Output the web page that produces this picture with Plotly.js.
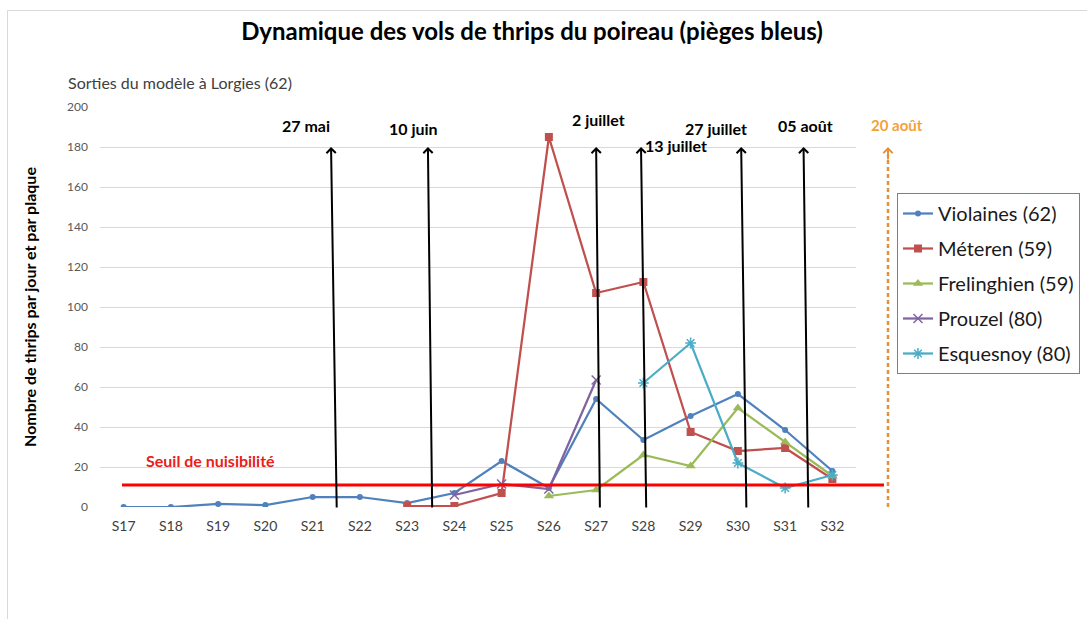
<!DOCTYPE html>
<html>
<head>
<meta charset="utf-8">
<script src="https://cdn.plot.ly/plotly-3.0.1.min.js"></script>
<style>html,body{margin:0;padding:0;background:#fff;}#chart{width:1087px;height:619px;}</style>
</head>
<body>
<div id="chart"></div>
<script>
// ---- data ----
var weeks = ["S17","S18","S19","S20","S21","S22","S23","S24","S25","S26","S27","S28","S29","S30","S31","S32"];
var violaines   = [0, 0, 1.5, 1, 5, 5, 2, 7, 23, 9.5, 54, 33.5, 45.5, 56.5, 38.5, 18];
var meteren     = [null, null, null, null, null, null, 0.5, 0.5, 7, 185, 107, 112.5, 37.5, 28, 29.5, 14];
var frelinghien = [null, null, null, null, null, null, null, null, null, 5.5, 8.5, 26, 20.5, 49.5, 32.5, 15.5];
var prouzel     = [null, null, null, null, null, null, null, 6, 11.5, 9, 63.5, null, null, null, null, null];
var esquesnoy   = [null, null, null, null, null, null, null, null, null, null, null, 62, 82, 22, 9.5, 16];
var seriesNames = ["Violaines (62)", "Méteren (59)", "Frelinghien (59)", "Prouzel (80)", "Esquesnoy (80)"];
var seuil = 11;
var seuilLabel = "Seuil de nuisibilité";
// dated events (arrows), positions in week-index units
var eventLabels = ["27 mai", "10 juin", "2 juillet", "13 juillet", "27 juillet", "05 août"];
var eventHeadX  = [4.39, 6.44, 10.0, 10.95, 13.07, 14.39];
var eventTailX  = [4.51, 6.53, 10.08, 11.06, 13.18, 14.49];
var lastEventLabel = "20 août";

var FONT = "Lato, 'Open Sans', sans-serif";
var colors = ["#4F81BD", "#C0504D", "#9BBB59", "#8064A2", "#4BACC6"];
var symbols = ["circle", "square", "triangle-up", "x-thin-open", "asterisk-open"];
var sizes = [6, 8, 9, 9, 9];
var allSeries = [violaines, meteren, frelinghien, prouzel, esquesnoy];

var traces = allSeries.map(function(vals, i) {
  return {
    type: "scatter", mode: "lines+markers",
    x: weeks, y: vals, name: seriesNames[i],
    legendgroup: "g" + i,
    connectgaps: false,
    line: {color: colors[i], width: 2.25},
    marker: {symbol: symbols[i], size: sizes[i], color: colors[i],
             line: {color: colors[i], width: (i >= 3 ? 1.5 : 0)}}
  };
});

// plot area in pixels: left 100, right 856, top 107, bottom 507
var L = 100, R = 856, T = 107, B = 507, W = 1087, H = 619;
function px2paperX(p) { return (p - L) / (R - L); }
function px2paperY(p) { return (B - p) / (B - T); }

var annotations = [];
var labelPos = [[3.86, 191], [6.14, 189.5], [10.04, 194], [11.69, 181], [12.54, 189.5], [14.43, 191]];
eventLabels.forEach(function(lbl, i) {
  annotations.push({
    xref: "x", yref: "y", x: eventHeadX[i], y: 180,
    axref: "x", ayref: "y", ax: eventTailX[i], ay: -1,
    showarrow: true, arrowhead: 4, arrowsize: 0.9, arrowwidth: 2, arrowcolor: "#000",
    standoff: 0, startstandoff: 0, text: ""
  });
  annotations.push({
    xref: "x", yref: "y", x: labelPos[i][0], y: labelPos[i][1],
    text: "<b>" + lbl + "</b>", showarrow: false,
    font: {family: FONT, size: 16, color: "#000"}, xanchor: "center", yanchor: "middle"
  });
});
// 20 août (outside the plot)
annotations.push({
  xref: "paper", yref: "y", x: px2paperX(888), y: 180,
  ax: 0, ay: 14, showarrow: true, arrowhead: 4, arrowsize: 0.9, arrowwidth: 2,
  arrowcolor: "#E5913B", standoff: 0, text: ""
});
annotations.push({
  xref: "paper", yref: "y", x: px2paperX(897), y: 191,
  text: "<b>" + lastEventLabel + "</b>", showarrow: false,
  font: {family: FONT, size: 15, color: "#F2A23A"}, xanchor: "center", yanchor: "middle"
});
// threshold label
annotations.push({
  xref: "x", yref: "y", x: 0.44, y: 23.5, xanchor: "left", yanchor: "middle",
  text: "<b>" + seuilLabel + "</b>", showarrow: false,
  font: {family: FONT, size: 16, color: "#E8201A"}
});
// subtitle
annotations.push({
  xref: "paper", yref: "paper", x: px2paperX(66), y: px2paperY(83),
  xanchor: "left", yanchor: "middle", showarrow: false,
  text: "Sorties du modèle à Lorgies (62)",
  font: {family: FONT, size: 16, color: "#404040"}
});

var shapes = [
  // faint chart border
  {type: "rect", xref: "paper", yref: "paper",
   x0: px2paperX(7.5), x1: px2paperX(1200), y0: px2paperY(700), y1: px2paperY(10.5),
   line: {color: "#d9d9d9", width: 1}, fillcolor: "rgba(0,0,0,0)", layer: "below"},
  // threshold
  {type: "line", xref: "paper", yref: "y", x0: px2paperX(122), x1: px2paperX(884), y0: seuil, y1: seuil,
   line: {color: "#FF0000", width: 3}},
  // 20 août dashed
  {type: "line", xref: "paper", yref: "y", x0: px2paperX(888), x1: px2paperX(888), y0: 0, y1: 176,
   line: {color: "#E5913B", width: 2.5, dash: "4px,3px"}}
];

var layout = {
  width: W, height: H,
  margin: {l: L, r: W - R, t: T, b: H - B, pad: 0, autoexpand: false},
  paper_bgcolor: "#fff", plot_bgcolor: "#fff",
  font: {family: FONT, color: "#404040"},
  title: {text: "<b>Dynamique des vols de thrips du poireau (pièges bleus)</b>",
          font: {family: FONT, size: 24, color: "#000"},
          x: 532 / W, xanchor: "center", y: 1 - 32 / H, yanchor: "middle", yref: "container"},
  xaxis: {type: "category", categoryorder: "array", categoryarray: weeks,
          range: [-0.5, 15.5], showgrid: false, zeroline: false, showline: false,
          ticks: "", tickfont: {family: FONT, size: 14, color: "#404040"}, ticklabelstandoff: 9,
          automargin: false, fixedrange: true},
  yaxis: {range: [0, 200], dtick: 20, tick0: 0, showgrid: true, gridcolor: "#d9d9d9", gridwidth: 1,
          zeroline: false, showline: false, ticks: "",
          tickfont: {family: FONT, size: 12, color: "#595959"}, ticklabelstandoff: 11,
          title: {text: "<b>Nombre de thrips par jour et par plaque</b>",
                  font: {family: FONT, size: 16, color: "#000"}, standoff: 26},
          automargin: false, fixedrange: true},
  showlegend: true,
  legend: {x: px2paperX(897), y: px2paperY(193), xanchor: "left", yanchor: "top",
           bordercolor: "#7f7f7f", borderwidth: 1, bgcolor: "#fff",
           font: {family: FONT, size: 20, color: "#1a1a1a"},
           traceorder: "grouped", tracegroupgap: 6, itemwidth: 30},
  annotations: annotations,
  shapes: shapes
};

Plotly.newPlot("chart", traces, layout, {displayModeBar: false, staticPlot: true});
</script>
</body>
</html>
